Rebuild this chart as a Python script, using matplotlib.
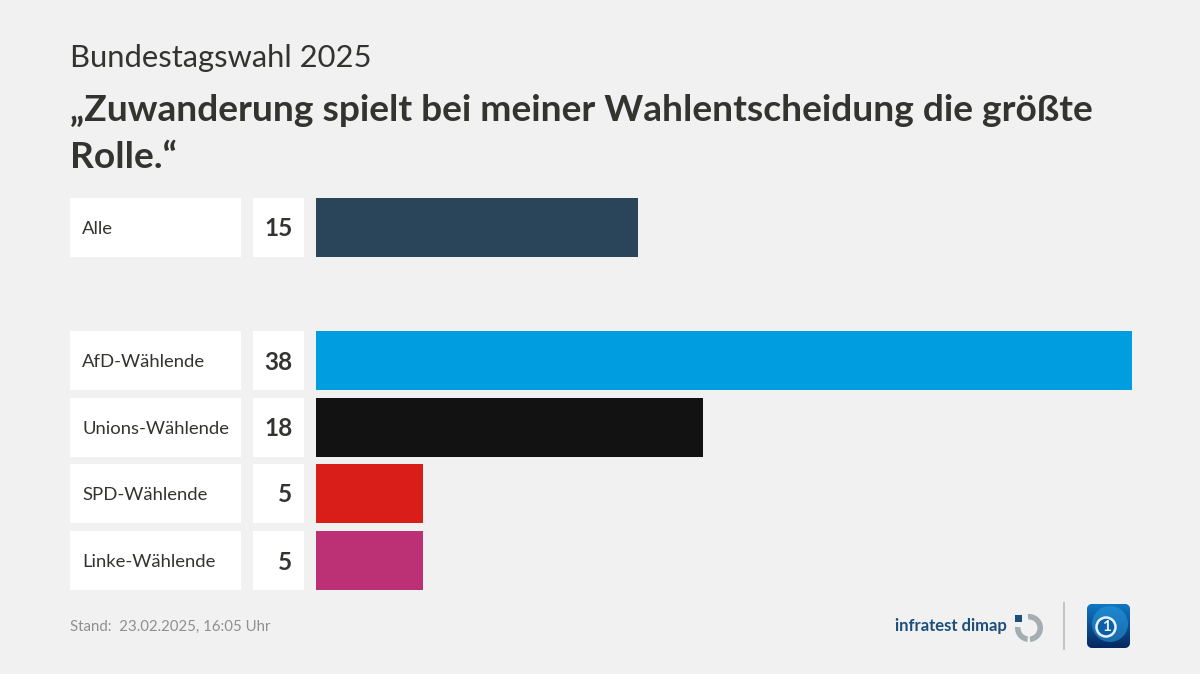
import numpy as np
import matplotlib
matplotlib.use("Agg")
import matplotlib.pyplot as plt
from matplotlib.colors import LinearSegmentedColormap
from matplotlib.patches import Rectangle, Circle, Wedge, FancyBboxPatch

# Data
groups = ["Alle", "AfD-Wählende", "Unions-Wählende", "SPD-Wählende", "Linke-Wählende"]
values = [15, 38, 18, 5, 5]
bar_colors = ["#2a4559", "#009ee0", "#121212", "#d91e1a", "#bc3076"]
row_tops = [198, 331, 398, 464, 531]

BG = "#f1f1f1"
TEXT = "#333330"
W, H = 1200, 674
ROW_H = 59
BAR_X = 316
PX_PER_UNIT = (1132 - 316) / 38

plt.rcParams["font.family"] = ["Lato", "DejaVu Sans"]

fig = plt.figure(figsize=(W / 100, H / 100), dpi=100, facecolor=BG)
ax = fig.add_axes([0, 0, 1, 1])

# Header
ax.text(70, 57.5, "Bundestagswahl 2025", fontsize=22.2, color=TEXT, va="center")
ax.text(70, 110.5, "„Zuwanderung spielt bei meiner Wahlentscheidung die größte", fontsize=26.7, color=TEXT, va="center", fontweight="bold")
ax.text(70, 157, "Rolle.“", fontsize=26.7, color=TEXT, va="center", fontweight="bold")

# Rows
for name, val, col, top in zip(groups, values, bar_colors, row_tops):
    mid = top + ROW_H / 2
    ax.add_patch(Rectangle((70, top), 171, ROW_H, fc="white", ec="none"))
    ax.add_patch(Rectangle((253, top), 51, ROW_H, fc="white", ec="none"))
    ax.add_patch(Rectangle((BAR_X, top), val * PX_PER_UNIT, ROW_H, fc=col, ec="none"))
    ax.text(82, mid + 1.5, name, fontsize=13.3, color=TEXT, va="center")
    ax.text(292.5, mid + 1.5, str(val), fontsize=17.5, color=TEXT, va="center", ha="right", fontweight="bold")

# Footer
ax.text(70, 626.5, "Stand:  23.02.2025, 16:05 Uhr", fontsize=10.85, color="#8f8f8f", va="center")
ax.text(1007, 626, "infratest dimap", fontsize=12, color="#1d4f7c", va="center", ha="right", fontweight="bold")

# infratest dimap mark
ax.add_patch(Wedge((1029, 628), 14, -95, 85, width=5.5, fc="#a3adb2", ec="none"))
ax.add_patch(Wedge((1029, 628), 14, 97, 185, width=5.5, fc="#a3adb2", ec="none"))
ax.add_patch(Rectangle((1015, 615), 7, 6.5, fc="#1d4f7c", ec="none"))

# Divider and tagesschau logo
ax.plot([1064, 1064], [603, 649], color="#b9b9b9", lw=1.2)
box = FancyBboxPatch((1087, 604), 43, 44, boxstyle="round,pad=0,rounding_size=6", fc="#0a4a8a", ec="none")
ax.add_patch(box)
grad = np.linspace(0, 1, 64)[:, None]
ts_cmap = LinearSegmentedColormap.from_list("ts", ["#1178c4", "#06275f"])
img = ax.imshow(grad, extent=(1087, 1130, 648, 604), cmap=ts_cmap, aspect="auto", zorder=2)
img.set_clip_path(box)
glow = Circle((1110, 624), 18, fc="#2a9be0", ec="none", alpha=0.55, zorder=3)
ax.add_patch(glow)
glow.set_clip_path(box)
ax.add_patch(Circle((1106, 627), 9.5, fc="#0d5fa8", ec="#e8f2f8", lw=1.8, zorder=4))
ax.text(1106, 627, "1", fontsize=11, color="#e8f2f8", va="center", ha="center", fontweight="bold", zorder=5)

ax.set_xlim(0, W)
ax.set_ylim(H, 0)
ax.axis("off")

fig.savefig("out.png", dpi=100, facecolor=BG)
